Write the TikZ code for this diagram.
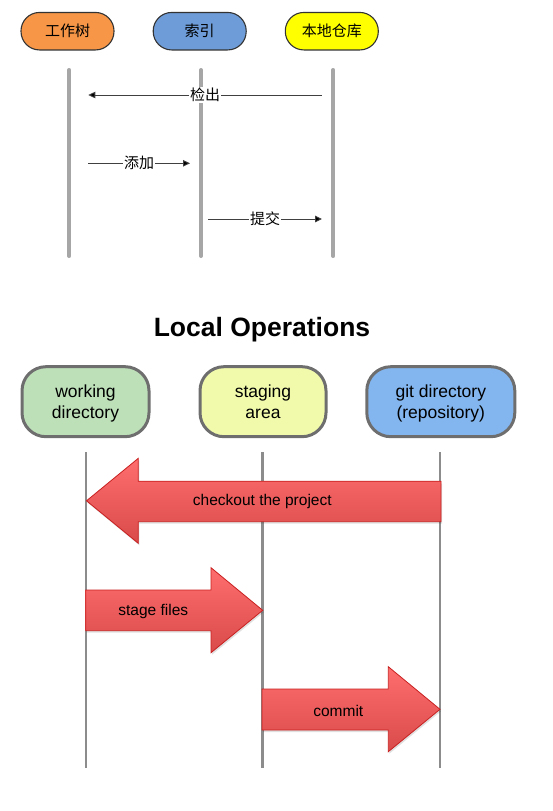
\documentclass[tikz,border=0pt]{standalone}
\usepackage{fontspec}
\setmainfont{Liberation Sans}
\newfontfamily\cjk{Noto Sans CJK SC}
\usetikzlibrary{arrows.meta}
\definecolor{cOrange}{HTML}{F79646}
\definecolor{cBlueTop}{HTML}{6E9CD8}
\definecolor{cYellowTop}{HTML}{FFFF00}
\definecolor{cGreen}{HTML}{BDE0B9}
\definecolor{cStage}{HTML}{F1FAAB}
\definecolor{cGit}{HTML}{83B5EE}
\definecolor{cPillLine}{HTML}{6E6E6E}
\definecolor{cLifeTop}{HTML}{A6A6A6}
\definecolor{cLife}{HTML}{8C8C8C}
\definecolor{cArrTop}{HTML}{FF6E6E}
\definecolor{cArrBot}{HTML}{D94A4A}
\definecolor{cArrLine}{HTML}{C82020}
\newcommand{\topstrut}{\rule{0pt}{18.8pt}}
\begin{document}
\begin{tikzpicture}[x=1pt,y=-1pt,
  toppill/.style={draw=black!80, line width=1.1pt, rounded corners=18.5pt,
    minimum width=93pt, minimum height=37.5pt, inner sep=0pt,
    font=\cjk\fontsize{15}{18}\selectfont},
  botpill/.style={draw=cPillLine, line width=3pt, rounded corners=24pt,
    minimum height=70pt, inner sep=0pt, align=center,
    font=\fontsize{17.5}{21.7}\selectfont},
  toplife/.style={draw=cLifeTop, line width=4pt, line cap=round},
  botlife/.style={draw=cLife, line width=2.4pt},
  toparrow/.style={draw=black!75, line width=0.9pt,
    -{Triangle[length=7pt,width=6.5pt,fill=black]}},
  toplabel/.style={fill=white, inner sep=1pt, font=\cjk\fontsize{15}{18}\selectfont},
  bigarrow/.style={top color=cArrTop, bottom color=cArrBot, draw=cArrLine, line width=0.8pt, line join=miter},
  arrshadow/.style={fill=black, opacity=0.12},
  arrlabel/.style={font=\fontsize{15.5}{18}\selectfont, inner sep=0pt}
]
\useasboundingbox (0,0) rectangle (553,811);

% ---------- top diagram ----------
\node[toppill, fill=cOrange] (wt) at (67.5,31.2) {工作树};
\node[toppill, fill=cBlueTop] (idx) at (199.7,31.2) {索引};
\node[toppill, fill=cYellowTop] (repo) at (331.8,31.2) {本地仓库};

\coordinate (t1a) at (69.3,70);  \coordinate (t1b) at (69.3,256);
\coordinate (t2a) at (201,70);   \coordinate (t2b) at (201,256);
\coordinate (t3a) at (333.3,70); \coordinate (t3b) at (333.3,256);
\draw[toplife] (t1a) -- (t1b);
\draw[toplife] (t2a) -- (t2b);
\draw[toplife] (t3a) -- (t3b);

\coordinate (coS) at (321.7,95);  \coordinate (coE) at (88.3,95);
\coordinate (adS) at (88.3,163.3); \coordinate (adE) at (190,163.3);
\coordinate (cmS) at (208.3,219);  \coordinate (cmE) at (322,219);
\draw[toparrow] (coS) -- node[toplabel] (lco) {检出} (coE);
\draw[toparrow] (adS) -- node[toplabel] (lad) {添加} (adE);
\draw[toparrow] (cmS) -- node[toplabel] (lcm) {提交} (cmE);

% ---------- bottom diagram ----------
\node[anchor=base, font=\bfseries\fontsize{26.5}{30}\selectfont] (title) at (262,336.7) {Local Operations};

\node[botpill, fill=cGreen, minimum width=127pt] (wd) at (85.5,401.7) {\topstrut working\\\strut directory};
\node[botpill, fill=cStage, minimum width=126pt] (sa) at (263,401.7) {\topstrut staging\\\strut area};
\node[botpill, fill=cGit, minimum width=148pt] (gd) at (440.8,401.7) {\topstrut git directory\\\strut (repository)};

\coordinate (b1a) at (86,452);   \coordinate (b1b) at (86,767.5);
\coordinate (b2a) at (262.5,452); \coordinate (b2b) at (262.5,767.5);
\coordinate (b3a) at (440,452);  \coordinate (b3b) at (440,767.5);
\draw[botlife] (b1a) -- (b1b);
\draw[botlife] (b2a) -- (b2b);
\draw[botlife] (b3a) -- (b3b);

% checkout the project
\fill[arrshadow] (87.5,502.7) -- (139.3,460.3) -- (139.3,483.7) -- (442,483.7) -- (442,523.7) -- (139.3,523.7) -- (139.3,545.3) -- cycle;
\shade[bigarrow] (86.5,500.8) -- (138.3,458.3) -- (138.3,481.2) -- (441,481.2) -- (441,521.7) -- (138.3,521.7) -- (138.3,543.3) -- cycle;
\node[arrlabel] (lcheckout) at (262.3,501.5) {checkout the project};

% stage files
\fill[arrshadow] (86.7,592) -- (212,592) -- (212,569.7) -- (263.7,612.3) -- (212,654.7) -- (212,632.7) -- (86.7,632.7) -- cycle;
\shade[bigarrow] (85.7,590) -- (211,590) -- (211,567.7) -- (262.7,610.3) -- (211,652.7) -- (211,630.7) -- (85.7,630.7) -- cycle;
\node[arrlabel] (lstage) at (153.3,611.5) {stage files};

% commit
\fill[arrshadow] (263,691) -- (389.3,691) -- (389.3,668.7) -- (441,711.3) -- (389.3,753.7) -- (389.3,732) -- (263,732) -- cycle;
\shade[bigarrow] (262,689) -- (388.3,689) -- (388.3,666.7) -- (440,709.3) -- (388.3,751.7) -- (388.3,730) -- (262,730) -- cycle;
\node[arrlabel] (lcommit) at (338.3,710.5) {commit};
\end{tikzpicture}
\end{document}
